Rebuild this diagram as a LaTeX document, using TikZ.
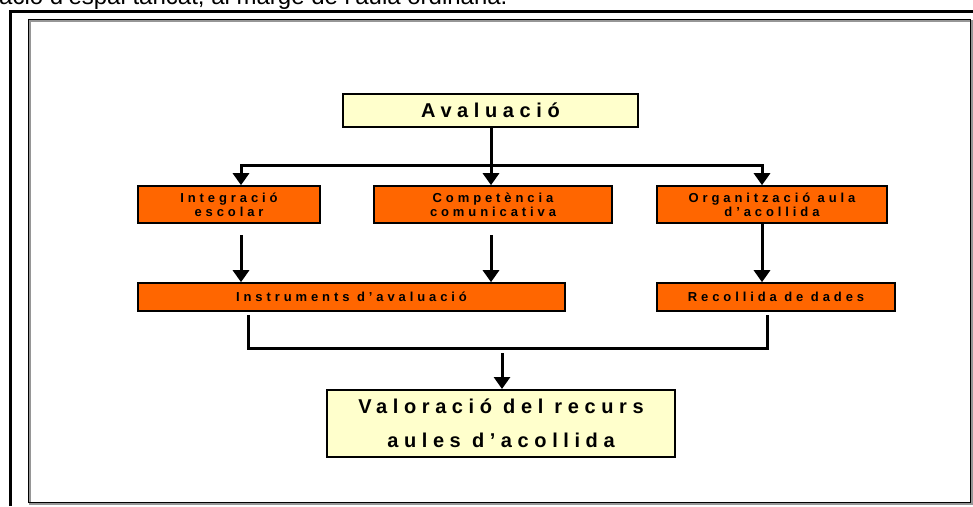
\documentclass[tikz,border=0pt]{standalone}
\usepackage{fontspec}
\setmainfont{Liberation Sans}
\newfontfamily\spacedfont[LetterSpace=30]{Liberation Sans}
\newfontfamily\widefont[LetterSpace=28]{Liberation Sans}
\usepackage{tikz}
\usetikzlibrary{arrows.meta}
\definecolor{boxorange}{RGB}{255,102,0}
\definecolor{boxyellow}{RGB}{255,255,204}
\definecolor{framegray}{RGB}{150,150,150}
\def\smalltext{\spacedfont\bfseries\fontsize{13}{14}\selectfont}
\def\bigtext{\widefont\bfseries\fontsize{20}{34}\selectfont}
\begin{document}
\begin{tikzpicture}[x=1pt, y=-1pt,
    titlebox/.style={draw, line width=2pt, fill=boxyellow, inner sep=0pt, align=center, font=\bigtext},
    stagebox/.style={draw, line width=1.6pt, fill=boxorange, inner sep=0pt, align=center, font=\smalltext},
    link/.style={line width=3pt},
    arr/.style={line width=3pt, -{Triangle[width=16pt,length=12pt]}}]

    \useasboundingbox (0,0) rectangle (973,506);
    \clip (0,0) rectangle (973,506);

    % text cut off above the frame
    \node[anchor=base west, inner sep=0pt, font=\fontsize{24}{24}\selectfont] (note) at (-1,5)
        {ació d’espai tancat, al marge de l’aula ordinària.};

    % frames
    \draw[line width=3pt] (10,506) -- (10,11) -- (980,11);
    \draw[framegray, line width=2pt] (29.5,20.5) rectangle (971.5,503.5);
    \draw[line width=1pt] (28,19) rectangle (970,502);

    % boxes
    \node[titlebox, minimum width=295pt, minimum height=33pt] (aval) at (490.5,110.5) {Avaluació};

    \node[stagebox, minimum width=182pt, minimum height=37pt] (integ) at (229,204.5) {Integració\\escolar};
    \node[stagebox, minimum width=238pt, minimum height=37pt] (comp) at (493,204.5) {Competència\\comunicativa};
    \node[stagebox, minimum width=230pt, minimum height=37pt] (organ) at (772,204.5) {Organització aula\\d’acollida};

    \node[stagebox, minimum width=427pt, minimum height=28pt] (instr) at (351.5,297) {Instruments d’avaluació};
    \node[stagebox, minimum width=238pt, minimum height=28pt] (recol) at (776,297) {Recollida de dades};

    \node[titlebox, minimum width=348pt, minimum height=67pt] (valor) at (501,423.5) {Valoració del recurs\\aules d’acollida};

    % connectors
    \coordinate (split) at (491,165);
    \coordinate (leftx) at (241,235);
    \coordinate (midx) at (491,235);
    \coordinate (rightx) at (762,235);
    \coordinate (joinl) at (248,348);
    \coordinate (joinr) at (767,348);
    \coordinate (down) at (502,353);

    \draw[link] (aval.south -| split) -- (split);
    \draw[arr] (split) -- (split |- comp.north);
    \draw[arr] (split) -| (leftx |- integ.north);
    \draw[arr] (split) -| (rightx |- organ.north);

    \draw[arr] (leftx) -- (leftx |- instr.north);
    \draw[arr] (midx) -- (midx |- instr.north);
    \draw[arr] (rightx |- organ.south) -- (rightx |- recol.north);

    \draw[link] ([yshift=-3pt]joinl |- instr.south) -- (joinl) -- (joinr) -- ([yshift=-3pt]joinr |- recol.south);
    \draw[arr] (down) -- (down |- valor.north);

\end{tikzpicture}
\end{document}
